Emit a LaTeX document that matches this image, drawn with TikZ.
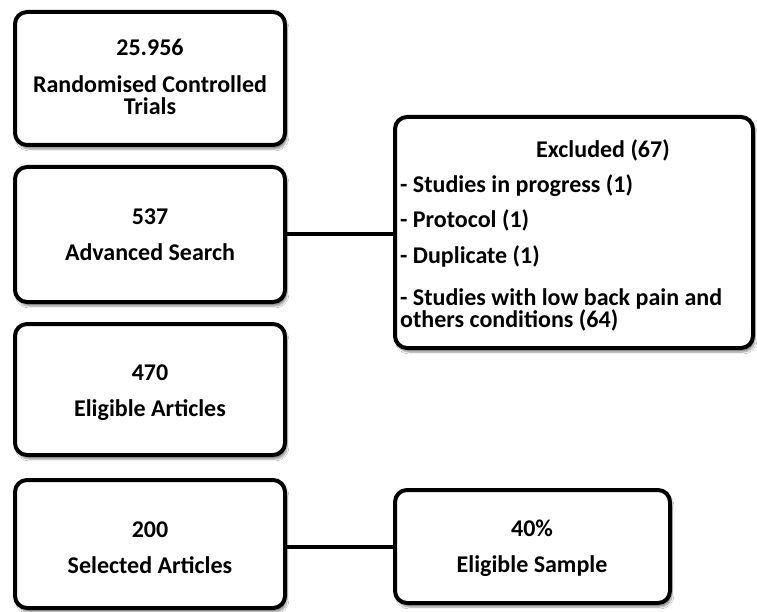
\documentclass[tikz,border=0pt]{standalone}
\usepackage{fontspec}
\setmainfont{Carlito}
\usetikzlibrary{shadows.blur}
\begin{document}
\begin{tikzpicture}[x=1pt,y=-1pt,
  box/.style={draw=black, line width=4pt, rounded corners=12pt, fill=white,
    blur shadow={shadow xshift=2pt, shadow yshift=-4pt, shadow blur steps=6, shadow opacity=45}},
  lbl/.style={font=\fontsize{24}{20}\selectfont\bfseries, anchor=base, inner sep=0pt},
  item/.style={lbl, anchor=base west},
  link/.style={line width=4pt}]
\useasboundingbox[fill=white] (0,0) rectangle (757,612);
% boxes
\node[box, minimum width=270pt, minimum height=133pt] (b1) at (150,78.5) {};
\node[box, minimum width=270pt, minimum height=135pt] (b2) at (150,234.5) {};
\node[box, minimum width=270pt, minimum height=131pt] (b3) at (150,389.5) {};
\node[box, minimum width=270pt, minimum height=128pt] (b4) at (150,544) {};
\node[box, minimum width=358pt, minimum height=231pt] (ex) at (574,232.5) {};
\node[box, minimum width=275pt, minimum height=113pt] (s) at (532.5,546.5) {};
% connectors
\draw[link] (b2.east) -- (b2.east -| ex.west);
\draw[link] (s.west) -- (s.west -| b4.east);
% texts
\node[lbl] (t1a) at (150,56) {25.956};
\node[lbl] (t1b) at (150,93) {Randomised Controlled};
\node[lbl] (t1c) at (150,115) {Trials};
\node[lbl] (t2a) at (150,225) {537};
\node[lbl] (t2b) at (150,261) {Advanced Search};
\node[lbl] (t3a) at (150,380) {470};
\node[lbl] (t3b) at (150,416) {Eligible Articles};
\node[lbl] (t4a) at (150,537) {200};
\node[lbl] (t4b) at (150,573) {Selected Articles};
\node[lbl] (t5a) at (532,536) {40\%};
\node[lbl] (t5b) at (532,572) {Eligible Sample};
\node[lbl] (e0) at (603,158) {Excluded (67)};
\node[item] (e1) at (400,193) {- Studies in progress (1)};
\node[item] (e2) at (400,228) {- Protocol (1)};
\node[item] (e3) at (400,264) {- Duplicate (1)};
\node[item] (e4) at (400,305) {- Studies with low back pain and};
\node[item] (e5) at (400,327) {others conditions (64)};
\end{tikzpicture}
\end{document}
